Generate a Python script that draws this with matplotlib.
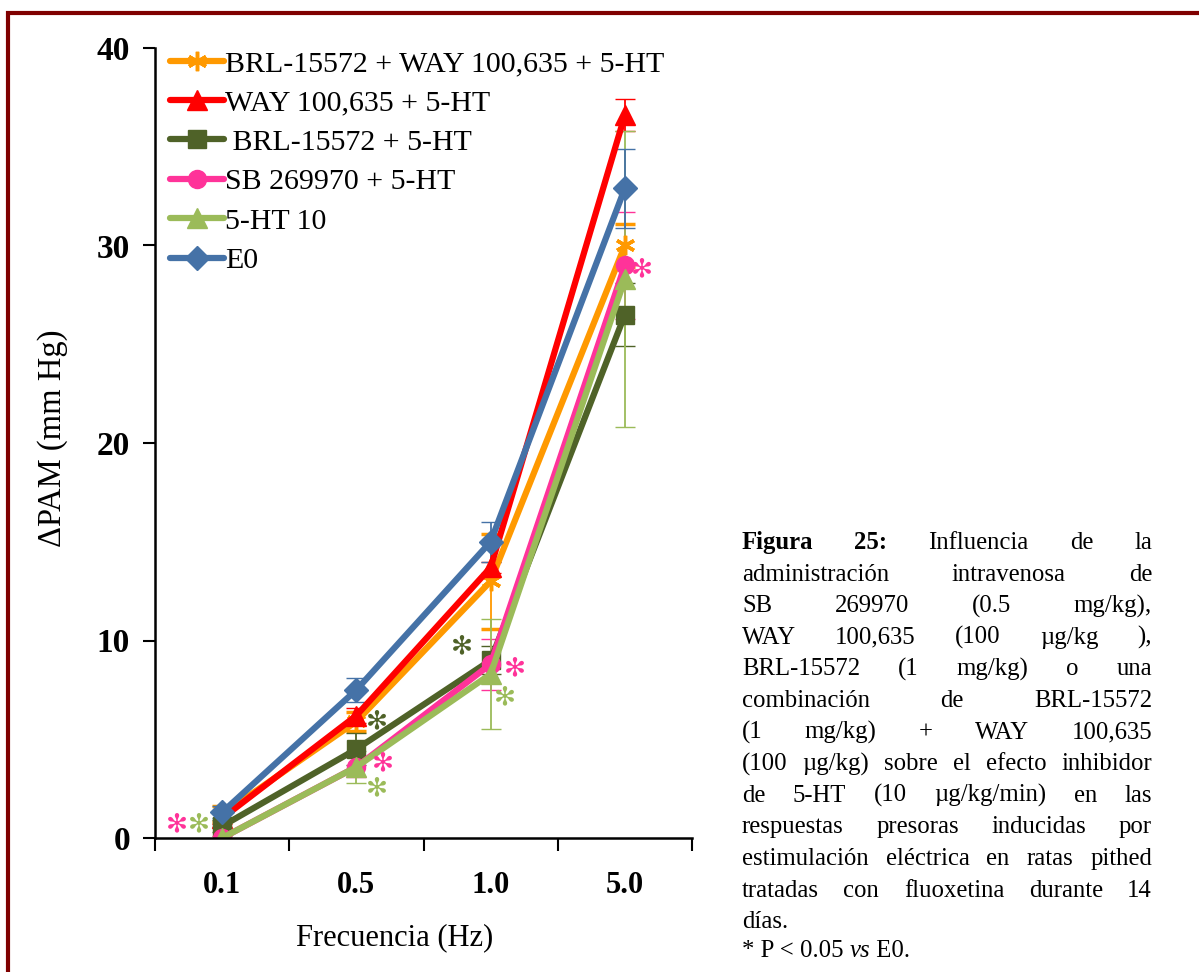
import matplotlib.pyplot as plt
from matplotlib.lines import Line2D
from matplotlib.patches import Rectangle

plt.rcParams['font.family'] = ['Liberation Serif', 'DejaVu Serif']

# Frecuencias de estimulación (categorías del eje X)
freqs = ['0.1', '0.5', '1.0', '5.0']

# ΔPAM medio (mm Hg) y error estándar por grupo
names = ['BRL-15572 + WAY 100,635 + 5-HT', 'WAY 100,635 + 5-HT', ' BRL-15572 + 5-HT',
         'SB 269970 + 5-HT', '5-HT 10', 'E0']
brl_way = [1.2, 5.9, 13.0, 30.0]
brl_way_err = [0.4, 0.5, 2.4, 1.1]
way = [1.0, 6.2, 13.7, 36.6]
way_err = [0.3, 0.4, 0.3, 0.8]
brl = [0.6, 4.5, 9.0, 26.5]
brl_err = [0.3, 0.8, 0.7, 1.6]
sb = [0.0, 3.6, 8.8, 29.0]
sb_err = [0.1, 0.5, 1.3, 2.7]
ht10 = [0.0, 3.6, 8.3, 28.3]
ht10_err = [0.1, 0.8, 2.8, 7.5]
e0 = [1.3, 7.5, 15.0, 32.9]
e0_err = [0.3, 0.6, 1.0, 2.0]

series = [brl_way, way, brl, sb, ht10, e0]
errors = [brl_way_err, way_err, brl_err, sb_err, ht10_err, e0_err]
colors = ['#FF9900', '#FF0000', '#4F6228', '#FF3399', '#9BBB59', '#4572A7']
markers = [(6, 2, 0), '^', 's', 'o', '^', 'D']
msizes = [14, 14, 13, 13, 14, 12]

# Asteriscos de significancia: (posición x, valor y, color)
stars = [(0.66, 0.7, '#FF3399'), (0.83, 0.7, '#9BBB59'),
         (2.15, 5.9, '#4F6228'), (2.2, 3.8, '#FF3399'), (2.15, 2.5, '#9BBB59'),
         (2.79, 9.7, '#4F6228'), (3.18, 8.6, '#FF3399'), (3.11, 7.1, '#9BBB59'),
         (4.13, 28.8, '#FF3399')]

fig = plt.figure(figsize=(11.99, 9.72), dpi=100)
ax = fig.add_axes([155 / 1199, 134 / 972, 537 / 1199, 790 / 972])

x = [1, 2, 3, 4]
handles = []
for vals, err, c, m, ms, name in zip(series, errors, colors, markers, msizes, names):
    mew = 2.5 if m == (6, 2, 0) else 1
    ax.errorbar(x, vals, yerr=err, color=c, ecolor=c, elinewidth=1.3, capsize=7,
                capthick=1.3, lw=4.5, marker=m, markersize=ms, mew=mew,
                mec=c, mfc=c, solid_capstyle='round')
    handles.append(Line2D([], [], color=c, lw=4.5, marker=m, markersize=ms, mew=mew,
                          mec=c, mfc=c, solid_capstyle='round', label=name))

for sx, sy, sc in stars:
    ax.text(sx, sy, '\u273B', color=sc, fontsize=19, ha='center', va='center',
            family='DejaVu Sans')

ax.set_xlim(0.5, 4.5)
ax.set_ylim(0, 40)
ax.set_yticks([0, 10, 20, 30, 40])
ax.set_xticks([0.5, 1.5, 2.5, 3.5, 4.5])
ax.set_xticklabels([])
ax.set_xticks(x, minor=True)
ax.set_xticklabels(freqs, minor=True, fontsize=22, fontweight='bold')
ax.tick_params(axis='x', which='minor', length=0, pad=24)
ax.tick_params(axis='x', which='major', length=9, width=1.5, direction='out')
ax.tick_params(axis='y', length=9, width=1.5, direction='out', pad=9, labelsize=24)
for lab in ax.get_yticklabels():
    lab.set_fontweight('bold')
for s in ['top', 'right']:
    ax.spines[s].set_visible(False)
for s in ['left', 'bottom']:
    ax.spines[s].set_linewidth(1.8)

ax.legend(handles=handles, loc='upper left', bbox_to_anchor=(-0.005, 1.02), frameon=False,
          fontsize=21.5, handlelength=1.8, handletextpad=0.05, labelspacing=0.42,
          borderaxespad=0.2)

fig.text(53 / 1199, 1 - 438 / 972, '\u0394PAM (mm Hg)', rotation=90, fontsize=23.5,
         ha='center', va='center')
fig.text(395 / 1199, 1 - 938 / 972, 'Frecuencia (Hz)', fontsize=22, ha='center', va='center')

# Marco rojo oscuro alrededor de la figura
fig.patches.append(Rectangle((8 / 1199, -0.05), 1.1, 1 - 13 / 972 + 0.05, transform=fig.transFigure,
                             fill=False, ec='#7F0000', lw=3))

# Leyenda de la figura, texto justificado línea a línea
caption = [
    [('Figura', 'bold'), ('25:', 'bold'), ('Influencia', 'normal'), ('de', 'normal'), ('la', 'normal')],
    'administración intravenosa de',
    'SB 269970 (0.5 mg/kg),',
    'WAY 100,635 (100 µg/kg ),',
    'BRL-15572 (1 mg/kg) o una',
    'combinación de BRL-15572',
    '(1 mg/kg) + WAY 100,635',
    '(100 µg/kg) sobre el efecto inhibidor',
    'de 5-HT (10 µg/kg/min) en las',
    'respuestas presoras inducidas por',
    'estimulación eléctrica en ratas pithed',
    'tratadas con fluoxetina durante 14',
]
x0, x1 = 742, 1152
y0, dy = 549, 31.6
fs = 17.8
renderer = fig.canvas.get_renderer()
for i, line in enumerate(caption):
    if isinstance(line, str):
        line = [(w, 'normal') for w in line.split()]
    ypix = y0 + i * dy
    texts = []
    total = 0
    for w, wt in line:
        t = fig.text(0, 1 - ypix / 972, w, fontsize=fs, fontweight=wt, va='baseline')
        wpx = t.get_window_extent(renderer).width
        texts.append((t, wpx))
        total += wpx
    gap = (x1 - x0 - total) / (len(texts) - 1)
    cx = x0
    for t, wpx in texts:
        t.set_x(cx / 1199)
        cx += wpx + gap

fig.text(x0 / 1199, 1 - (y0 + 12 * dy) / 972, 'días.', fontsize=fs, va='baseline')

# Última línea con "vs" en cursiva
cx = x0
for piece, style in [('* P < 0.05 ', 'normal'), ('vs', 'italic'), (' E0.', 'normal')]:
    t = fig.text(cx / 1199, 1 - 957 / 972, piece, fontsize=fs, style=style, va='baseline')
    cx += t.get_window_extent(renderer).width

plt.savefig('out.png', dpi=100)
plt.close()
